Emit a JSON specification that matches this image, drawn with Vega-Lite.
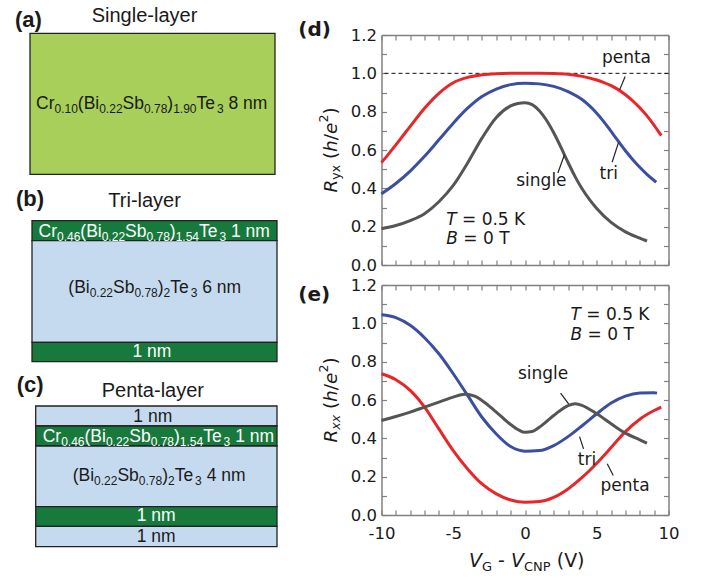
{
  "$schema": "https://vega.github.io/schema/vega-lite/v6.json",
  "background": "white",
  "padding": 0,
  "bounds": "flush",
  "spacing": 101.5,
  "resolve": {"scale": {"color": "independent", "fill": "independent"}},
  "config": {
    "view": {"stroke": null, "fill": "white"},
    "axis": {"grid": false, "tickSize": -5, "tickColor": "#808080", "tickWidth": 1.2, "domainColor": "#808080", "domainWidth": 1.5, "labelFont": "DejaVu Sans", "labelFontSize": 16.5, "labelColor": "#1a1a1a", "labelOverlap": false, "labelFlush": false, "labelBound": false, "labelPadding": 10}
  },
  "datasets": {
    "schem": [
      {"panel": "a", "material": "CBST-8nm", "x0": 30, "x1": 275, "y0": 33.3, "y1": 174.3},
      {"panel": "b", "material": "CBST-1nm", "x0": 32, "x1": 277, "y0": 220.7, "y1": 240.7},
      {"panel": "b", "material": "BST", "x0": 32, "x1": 277, "y0": 240.7, "y1": 342.3},
      {"panel": "b", "material": "CBST-1nm", "x0": 32, "x1": 277, "y0": 342.3, "y1": 361.7},
      {"panel": "c", "material": "BST", "x0": 35.7, "x1": 277, "y0": 406, "y1": 426},
      {"panel": "c", "material": "CBST-1nm", "x0": 35.7, "x1": 277, "y0": 426, "y1": 446},
      {"panel": "c", "material": "BST", "x0": 35.7, "x1": 277, "y0": 446, "y1": 506.7},
      {"panel": "c", "material": "CBST-1nm", "x0": 35.7, "x1": 277, "y0": 506.7, "y1": 526.3},
      {"panel": "c", "material": "BST", "x0": 35.7, "x1": 277, "y0": 526.3, "y1": 546.7}
    ],
    "stext": [
      {"text": "(a)", "x": 15, "y": 26.7, "role": "panel", "tone": "dark"},
      {"text": "Single-layer", "x": 91.7, "y": 22, "role": "title", "tone": "dark"},
      {"text": "(b)", "x": 16, "y": 206, "role": "panel", "tone": "dark"},
      {"text": "Tri-layer", "x": 108.3, "y": 207.3, "role": "title", "tone": "dark"},
      {"text": "(c)", "x": 16.7, "y": 391.7, "role": "panel", "tone": "dark"},
      {"text": "Penta-layer", "x": 101.7, "y": 396.7, "role": "title", "tone": "dark"},
      {"text": "Cr", "x": 36, "y": 109.3, "role": "main", "tone": "dark"},
      {"text": "0.10", "x": 54.46, "y": 109.3, "role": "sub", "tone": "dark"},
      {"text": "(Bi", "x": 77.81, "y": 109.3, "role": "main", "tone": "dark"},
      {"text": "0.22", "x": 99.2, "y": 109.3, "role": "sub", "tone": "dark"},
      {"text": "Sb", "x": 122.55, "y": 109.3, "role": "main", "tone": "dark"},
      {"text": "0.78", "x": 143.95, "y": 109.3, "role": "sub", "tone": "dark"},
      {"text": ")", "x": 167.3, "y": 109.3, "role": "main", "tone": "dark"},
      {"text": "1.90", "x": 173.13, "y": 109.3, "role": "sub", "tone": "dark"},
      {"text": "Te", "x": 196.48, "y": 109.3, "role": "main", "tone": "dark"},
      {"text": "3", "x": 216.9, "y": 109.3, "role": "sub", "tone": "dark"},
      {"text": "8 nm", "x": 228.44, "y": 109.3, "role": "main", "tone": "dark"},
      {"text": "Cr", "x": 38.5, "y": 236.7, "role": "main", "tone": "light"},
      {"text": "0.46", "x": 56.96, "y": 236.7, "role": "sub", "tone": "light"},
      {"text": "(Bi", "x": 80.31, "y": 236.7, "role": "main", "tone": "light"},
      {"text": "0.22", "x": 101.7, "y": 236.7, "role": "sub", "tone": "light"},
      {"text": "Sb", "x": 125.05, "y": 236.7, "role": "main", "tone": "light"},
      {"text": "0.78", "x": 146.45, "y": 236.7, "role": "sub", "tone": "light"},
      {"text": ")", "x": 169.8, "y": 236.7, "role": "main", "tone": "light"},
      {"text": "1.54", "x": 175.63, "y": 236.7, "role": "sub", "tone": "light"},
      {"text": "Te", "x": 198.98, "y": 236.7, "role": "main", "tone": "light"},
      {"text": "3", "x": 219.4, "y": 236.7, "role": "sub", "tone": "light"},
      {"text": "1 nm", "x": 230.94, "y": 236.7, "role": "main", "tone": "light"},
      {"text": "(Bi", "x": 68.3, "y": 293.3, "role": "main", "tone": "dark"},
      {"text": "0.22", "x": 89.69, "y": 293.3, "role": "sub", "tone": "dark"},
      {"text": "Sb", "x": 113.04, "y": 293.3, "role": "main", "tone": "dark"},
      {"text": "0.78", "x": 134.44, "y": 293.3, "role": "sub", "tone": "dark"},
      {"text": ")", "x": 157.79, "y": 293.3, "role": "main", "tone": "dark"},
      {"text": "2", "x": 163.62, "y": 293.3, "role": "sub", "tone": "dark"},
      {"text": "Te", "x": 170.29, "y": 293.3, "role": "main", "tone": "dark"},
      {"text": "3", "x": 190.71, "y": 293.3, "role": "sub", "tone": "dark"},
      {"text": "6 nm", "x": 202.25, "y": 293.3, "role": "main", "tone": "dark"},
      {"text": "1 nm", "x": 132.5, "y": 356.7, "role": "main", "tone": "light"},
      {"text": "1 nm", "x": 133.3, "y": 421.7, "role": "main", "tone": "dark"},
      {"text": "Cr", "x": 42.7, "y": 441.7, "role": "main", "tone": "light"},
      {"text": "0.46", "x": 61.16, "y": 441.7, "role": "sub", "tone": "light"},
      {"text": "(Bi", "x": 84.51, "y": 441.7, "role": "main", "tone": "light"},
      {"text": "0.22", "x": 105.9, "y": 441.7, "role": "sub", "tone": "light"},
      {"text": "Sb", "x": 129.25, "y": 441.7, "role": "main", "tone": "light"},
      {"text": "0.78", "x": 150.65, "y": 441.7, "role": "sub", "tone": "light"},
      {"text": ")", "x": 174.0, "y": 441.7, "role": "main", "tone": "light"},
      {"text": "1.54", "x": 179.83, "y": 441.7, "role": "sub", "tone": "light"},
      {"text": "Te", "x": 203.18, "y": 441.7, "role": "main", "tone": "light"},
      {"text": "3", "x": 223.6, "y": 441.7, "role": "sub", "tone": "light"},
      {"text": "1 nm", "x": 235.14, "y": 441.7, "role": "main", "tone": "light"},
      {"text": "(Bi", "x": 72.7, "y": 481, "role": "main", "tone": "dark"},
      {"text": "0.22", "x": 94.09, "y": 481, "role": "sub", "tone": "dark"},
      {"text": "Sb", "x": 117.44, "y": 481, "role": "main", "tone": "dark"},
      {"text": "0.78", "x": 138.84, "y": 481, "role": "sub", "tone": "dark"},
      {"text": ")", "x": 162.19, "y": 481, "role": "main", "tone": "dark"},
      {"text": "2", "x": 168.02, "y": 481, "role": "sub", "tone": "dark"},
      {"text": "Te", "x": 174.69, "y": 481, "role": "main", "tone": "dark"},
      {"text": "3", "x": 195.11, "y": 481, "role": "sub", "tone": "dark"},
      {"text": "4 nm", "x": 206.65, "y": 481, "role": "main", "tone": "dark"},
      {"text": "1 nm", "x": 136.7, "y": 520.7, "role": "main", "tone": "light"},
      {"text": "1 nm", "x": 136.7, "y": 541.7, "role": "main", "tone": "dark"}
    ],
    "curves": [
      {"p": "d", "s": "penta", "v": -10, "R": 0.535}, {"p": "d", "s": "penta", "v": -9.5, "R": 0.58}, {"p": "d", "s": "penta", "v": -9, "R": 0.627}, {"p": "d", "s": "penta", "v": -8, "R": 0.723}, {"p": "d", "s": "penta", "v": -7, "R": 0.818}, {"p": "d", "s": "penta", "v": -6, "R": 0.896}, {"p": "d", "s": "penta", "v": -5, "R": 0.951}, {"p": "d", "s": "penta", "v": -4, "R": 0.979}, {"p": "d", "s": "penta", "v": -3, "R": 0.992}, {"p": "d", "s": "penta", "v": -2, "R": 0.998}, {"p": "d", "s": "penta", "v": -1, "R": 1.0}, {"p": "d", "s": "penta", "v": 0, "R": 1.0}, {"p": "d", "s": "penta", "v": 1, "R": 1.0}, {"p": "d", "s": "penta", "v": 2, "R": 0.999}, {"p": "d", "s": "penta", "v": 3, "R": 0.995}, {"p": "d", "s": "penta", "v": 4, "R": 0.984}, {"p": "d", "s": "penta", "v": 5, "R": 0.965}, {"p": "d", "s": "penta", "v": 5.5, "R": 0.952}, {"p": "d", "s": "penta", "v": 6, "R": 0.936}, {"p": "d", "s": "penta", "v": 6.5, "R": 0.915}, {"p": "d", "s": "penta", "v": 7, "R": 0.888}, {"p": "d", "s": "penta", "v": 7.5, "R": 0.857}, {"p": "d", "s": "penta", "v": 8, "R": 0.82}, {"p": "d", "s": "penta", "v": 8.5, "R": 0.778}, {"p": "d", "s": "penta", "v": 9, "R": 0.729}, {"p": "d", "s": "penta", "v": 9.5, "R": 0.675},
      {"p": "d", "s": "tri", "v": -10, "R": 0.371}, {"p": "d", "s": "tri", "v": -9, "R": 0.425}, {"p": "d", "s": "tri", "v": -8, "R": 0.49}, {"p": "d", "s": "tri", "v": -7, "R": 0.567}, {"p": "d", "s": "tri", "v": -6, "R": 0.653}, {"p": "d", "s": "tri", "v": -5, "R": 0.74}, {"p": "d", "s": "tri", "v": -4, "R": 0.818}, {"p": "d", "s": "tri", "v": -3, "R": 0.879}, {"p": "d", "s": "tri", "v": -2, "R": 0.918}, {"p": "d", "s": "tri", "v": -1, "R": 0.941}, {"p": "d", "s": "tri", "v": 0, "R": 0.948}, {"p": "d", "s": "tri", "v": 1, "R": 0.945}, {"p": "d", "s": "tri", "v": 2, "R": 0.932}, {"p": "d", "s": "tri", "v": 3, "R": 0.905}, {"p": "d", "s": "tri", "v": 4, "R": 0.862}, {"p": "d", "s": "tri", "v": 4.5, "R": 0.83}, {"p": "d", "s": "tri", "v": 5, "R": 0.792}, {"p": "d", "s": "tri", "v": 5.5, "R": 0.747}, {"p": "d", "s": "tri", "v": 6, "R": 0.697}, {"p": "d", "s": "tri", "v": 6.5, "R": 0.646}, {"p": "d", "s": "tri", "v": 7, "R": 0.596}, {"p": "d", "s": "tri", "v": 7.5, "R": 0.551}, {"p": "d", "s": "tri", "v": 8, "R": 0.51}, {"p": "d", "s": "tri", "v": 8.5, "R": 0.473}, {"p": "d", "s": "tri", "v": 9, "R": 0.441}, {"p": "d", "s": "tri", "v": 9.15, "R": 0.432},
      {"p": "d", "s": "single", "v": -10, "R": 0.189}, {"p": "d", "s": "single", "v": -9, "R": 0.206}, {"p": "d", "s": "single", "v": -8, "R": 0.232}, {"p": "d", "s": "single", "v": -7, "R": 0.268}, {"p": "d", "s": "single", "v": -6, "R": 0.33}, {"p": "d", "s": "single", "v": -5, "R": 0.415}, {"p": "d", "s": "single", "v": -4, "R": 0.532}, {"p": "d", "s": "single", "v": -3, "R": 0.662}, {"p": "d", "s": "single", "v": -2, "R": 0.77}, {"p": "d", "s": "single", "v": -1, "R": 0.83}, {"p": "d", "s": "single", "v": -0.5, "R": 0.843}, {"p": "d", "s": "single", "v": 0, "R": 0.847}, {"p": "d", "s": "single", "v": 0.5, "R": 0.837}, {"p": "d", "s": "single", "v": 1, "R": 0.805}, {"p": "d", "s": "single", "v": 1.5, "R": 0.755}, {"p": "d", "s": "single", "v": 2, "R": 0.69}, {"p": "d", "s": "single", "v": 2.5, "R": 0.615}, {"p": "d", "s": "single", "v": 3, "R": 0.535}, {"p": "d", "s": "single", "v": 3.5, "R": 0.46}, {"p": "d", "s": "single", "v": 4, "R": 0.395}, {"p": "d", "s": "single", "v": 4.5, "R": 0.341}, {"p": "d", "s": "single", "v": 5, "R": 0.295}, {"p": "d", "s": "single", "v": 6, "R": 0.222}, {"p": "d", "s": "single", "v": 7, "R": 0.173}, {"p": "d", "s": "single", "v": 8, "R": 0.14}, {"p": "d", "s": "single", "v": 8.5, "R": 0.125},
      {"p": "e", "s": "tri", "v": -10, "R": 1.045}, {"p": "e", "s": "tri", "v": -9, "R": 1.03}, {"p": "e", "s": "tri", "v": -8, "R": 0.99}, {"p": "e", "s": "tri", "v": -7, "R": 0.925}, {"p": "e", "s": "tri", "v": -6, "R": 0.841}, {"p": "e", "s": "tri", "v": -5, "R": 0.737}, {"p": "e", "s": "tri", "v": -4, "R": 0.624}, {"p": "e", "s": "tri", "v": -3, "R": 0.51}, {"p": "e", "s": "tri", "v": -2, "R": 0.423}, {"p": "e", "s": "tri", "v": -1, "R": 0.357}, {"p": "e", "s": "tri", "v": 0, "R": 0.333}, {"p": "e", "s": "tri", "v": 1, "R": 0.336}, {"p": "e", "s": "tri", "v": 2, "R": 0.362}, {"p": "e", "s": "tri", "v": 3, "R": 0.409}, {"p": "e", "s": "tri", "v": 4, "R": 0.467}, {"p": "e", "s": "tri", "v": 5, "R": 0.528}, {"p": "e", "s": "tri", "v": 6, "R": 0.584}, {"p": "e", "s": "tri", "v": 7, "R": 0.62}, {"p": "e", "s": "tri", "v": 8, "R": 0.636}, {"p": "e", "s": "tri", "v": 9, "R": 0.638}, {"p": "e", "s": "tri", "v": 9.2, "R": 0.636},
      {"p": "e", "s": "penta", "v": -10, "R": 0.737}, {"p": "e", "s": "penta", "v": -9, "R": 0.706}, {"p": "e", "s": "penta", "v": -8, "R": 0.65}, {"p": "e", "s": "penta", "v": -7, "R": 0.563}, {"p": "e", "s": "penta", "v": -6, "R": 0.449}, {"p": "e", "s": "penta", "v": -5, "R": 0.336}, {"p": "e", "s": "penta", "v": -4, "R": 0.24}, {"p": "e", "s": "penta", "v": -3, "R": 0.162}, {"p": "e", "s": "penta", "v": -2, "R": 0.11}, {"p": "e", "s": "penta", "v": -1, "R": 0.078}, {"p": "e", "s": "penta", "v": 0, "R": 0.066}, {"p": "e", "s": "penta", "v": 1, "R": 0.07}, {"p": "e", "s": "penta", "v": 2, "R": 0.092}, {"p": "e", "s": "penta", "v": 3, "R": 0.136}, {"p": "e", "s": "penta", "v": 4, "R": 0.197}, {"p": "e", "s": "penta", "v": 5, "R": 0.27}, {"p": "e", "s": "penta", "v": 6, "R": 0.352}, {"p": "e", "s": "penta", "v": 7, "R": 0.435}, {"p": "e", "s": "penta", "v": 8, "R": 0.5}, {"p": "e", "s": "penta", "v": 9, "R": 0.545}, {"p": "e", "s": "penta", "v": 9.5, "R": 0.563},
      {"p": "e", "s": "single", "v": -10, "R": 0.493}, {"p": "e", "s": "single", "v": -9, "R": 0.514}, {"p": "e", "s": "single", "v": -8, "R": 0.537}, {"p": "e", "s": "single", "v": -7, "R": 0.563}, {"p": "e", "s": "single", "v": -6, "R": 0.589}, {"p": "e", "s": "single", "v": -5, "R": 0.615}, {"p": "e", "s": "single", "v": -4.2, "R": 0.63}, {"p": "e", "s": "single", "v": -3.5, "R": 0.62}, {"p": "e", "s": "single", "v": -3, "R": 0.598}, {"p": "e", "s": "single", "v": -2, "R": 0.537}, {"p": "e", "s": "single", "v": -1, "R": 0.472}, {"p": "e", "s": "single", "v": 0, "R": 0.432}, {"p": "e", "s": "single", "v": 0.5, "R": 0.436}, {"p": "e", "s": "single", "v": 1, "R": 0.458}, {"p": "e", "s": "single", "v": 2, "R": 0.519}, {"p": "e", "s": "single", "v": 3, "R": 0.571}, {"p": "e", "s": "single", "v": 3.5, "R": 0.58}, {"p": "e", "s": "single", "v": 4, "R": 0.571}, {"p": "e", "s": "single", "v": 5, "R": 0.528}, {"p": "e", "s": "single", "v": 6, "R": 0.476}, {"p": "e", "s": "single", "v": 7, "R": 0.427}, {"p": "e", "s": "single", "v": 8, "R": 0.392}, {"p": "e", "s": "single", "v": 8.5, "R": 0.375}
    ],
    "leaders": [
      {"p": "d", "v1": 6.98, "R1": 0.983, "v2": 6.6, "R2": 0.915},
      {"p": "d", "v1": 6.07, "R1": 0.536, "v2": 6.52, "R2": 0.64},
      {"p": "d", "v1": 2.29, "R1": 0.48, "v2": 2.75, "R2": 0.575},
      {"p": "e", "v1": 2.48, "R1": 0.636, "v2": 3.04, "R2": 0.58},
      {"p": "e", "v1": 3.8, "R1": 0.409, "v2": 4.08, "R2": 0.345},
      {"p": "e", "v1": 5.73, "R1": 0.267, "v2": 6.15, "R2": 0.206}
    ],
    "ann": [
      {"p": "d", "st": "b", "text": "(d)", "v": -15.8, "R": 1.195},
      {"p": "d", "st": "n", "text": "penta", "v": 5.36, "R": 1.052},
      {"p": "d", "st": "n", "text": "tri", "v": 5.19, "R": 0.451},
      {"p": "d", "st": "n", "text": "single", "v": -0.61, "R": 0.411},
      {"p": "d", "st": "i", "text": "T", "v": -5.49, "R": 0.211},
      {"p": "d", "st": "n", "text": "= 0.5 K", "v": -4.39, "R": 0.211},
      {"p": "d", "st": "i", "text": "B", "v": -5.49, "R": 0.107},
      {"p": "d", "st": "n", "text": "= 0 T", "v": -4.3, "R": 0.107},
      {"p": "d", "st": "ti", "text": "R", "v": -13.12, "R": 0.378},
      {"p": "d", "st": "ts", "text": "yx", "v": -13.12, "R": 0.445},
      {"p": "d", "st": "tn", "text": "(", "v": -13.12, "R": 0.553},
      {"p": "d", "st": "ti", "text": "h", "v": -13.12, "R": 0.59},
      {"p": "d", "st": "tn", "text": "/", "v": -13.12, "R": 0.651},
      {"p": "d", "st": "ti", "text": "e", "v": -13.12, "R": 0.684},
      {"p": "d", "st": "tp", "text": "2", "v": -13.12, "R": 0.743},
      {"p": "d", "st": "tn", "text": ")", "v": -13.12, "R": 0.785},
      {"p": "e", "st": "b", "text": "(e)", "v": -15.8, "R": 1.117},
      {"p": "e", "st": "n", "text": "single", "v": -0.49, "R": 0.711},
      {"p": "e", "st": "n", "text": "tri", "v": 3.68, "R": 0.261},
      {"p": "e", "st": "n", "text": "penta", "v": 5.26, "R": 0.127},
      {"p": "e", "st": "i", "text": "T", "v": 3.17, "R": 1.019},
      {"p": "e", "st": "n", "text": "= 0.5 K", "v": 4.27, "R": 1.019},
      {"p": "e", "st": "i", "text": "B", "v": 3.17, "R": 0.915},
      {"p": "e", "st": "n", "text": "= 0 T", "v": 4.36, "R": 0.915},
      {"p": "e", "st": "ti", "text": "R", "v": -13.12, "R": 0.378},
      {"p": "e", "st": "ts", "text": "xx", "v": -13.12, "R": 0.445},
      {"p": "e", "st": "tn", "text": "(", "v": -13.12, "R": 0.553},
      {"p": "e", "st": "ti", "text": "h", "v": -13.12, "R": 0.59},
      {"p": "e", "st": "tn", "text": "/", "v": -13.12, "R": 0.651},
      {"p": "e", "st": "ti", "text": "e", "v": -13.12, "R": 0.684},
      {"p": "e", "st": "tp", "text": "2", "v": -13.12, "R": 0.743},
      {"p": "e", "st": "tn", "text": ")", "v": -13.12, "R": 0.785},
      {"p": "e", "st": "xi", "text": "V", "v": -3.902, "R": -0.273},
      {"p": "e", "st": "xs", "text": "G", "v": -2.996, "R": -0.273},
      {"p": "e", "st": "xn", "text": "-", "v": -1.873, "R": -0.273},
      {"p": "e", "st": "xi", "text": "V", "v": -0.974, "R": -0.273},
      {"p": "e", "st": "xs", "text": "CNP", "v": -0.068, "R": -0.273},
      {"p": "e", "st": "xn", "text": "(V)", "v": 2.21, "R": -0.273}
    ]
  },
  "hconcat": [
    {
      "width": 280,
      "height": 579,
      "layer": [
        {
          "data": {"name": "schem"},
          "mark": {"type": "rect", "stroke": "#222222", "strokeWidth": 1.3},
          "encoding": {
            "x": {"field": "x0", "type": "quantitative", "scale": {"domain": [0, 280], "nice": false, "zero": false}, "axis": null},
            "x2": {"field": "x1"},
            "y": {"field": "y0", "type": "quantitative", "scale": {"domain": [0, 579], "nice": false, "zero": false, "reverse": true}, "axis": null},
            "y2": {"field": "y1"},
            "fill": {"field": "material", "type": "nominal", "scale": {"domain": ["CBST-8nm", "CBST-1nm", "BST"], "range": ["#a7cf59", "#177a3c", "#c6daef"]}, "legend": null}
          }
        },
        {
          "data": {"name": "stext"},
          "transform": [{"filter": "datum.role == 'panel'"}],
          "mark": {"type": "text", "align": "left", "baseline": "alphabetic", "font": "Liberation Sans", "fontSize": 22, "fontWeight": "bold"},
          "encoding": {
            "x": {"field": "x", "type": "quantitative", "scale": {"domain": [0, 280], "nice": false, "zero": false}, "axis": null},
            "y": {"field": "y", "type": "quantitative", "scale": {"domain": [0, 579], "nice": false, "zero": false, "reverse": true}, "axis": null},
            "text": {"field": "text"},
            "color": {"field": "tone", "type": "nominal", "scale": {"domain": ["dark", "light"], "range": ["#1a1a1a", "#ffffff"]}, "legend": null}
          }
        },
        {
          "data": {"name": "stext"},
          "transform": [{"filter": "datum.role == 'title'"}],
          "mark": {"type": "text", "align": "left", "baseline": "alphabetic", "font": "Liberation Sans", "fontSize": 20},
          "encoding": {
            "x": {"field": "x", "type": "quantitative", "scale": {"domain": [0, 280], "nice": false, "zero": false}, "axis": null},
            "y": {"field": "y", "type": "quantitative", "scale": {"domain": [0, 579], "nice": false, "zero": false, "reverse": true}, "axis": null},
            "text": {"field": "text"},
            "color": {"field": "tone", "type": "nominal", "scale": {"domain": ["dark", "light"], "range": ["#1a1a1a", "#ffffff"]}, "legend": null}
          }
        },
        {
          "data": {"name": "stext"},
          "transform": [{"filter": "datum.role == 'main'"}],
          "mark": {"type": "text", "align": "left", "baseline": "alphabetic", "font": "Liberation Sans", "fontSize": 17.5},
          "encoding": {
            "x": {"field": "x", "type": "quantitative", "scale": {"domain": [0, 280], "nice": false, "zero": false}, "axis": null},
            "y": {"field": "y", "type": "quantitative", "scale": {"domain": [0, 579], "nice": false, "zero": false, "reverse": true}, "axis": null},
            "text": {"field": "text"},
            "color": {"field": "tone", "type": "nominal", "scale": {"domain": ["dark", "light"], "range": ["#1a1a1a", "#ffffff"]}, "legend": null}
          }
        },
        {
          "data": {"name": "stext"},
          "transform": [{"filter": "datum.role == 'sub'"}],
          "mark": {"type": "text", "align": "left", "baseline": "alphabetic", "font": "Liberation Sans", "fontSize": 12, "dy": 4},
          "encoding": {
            "x": {"field": "x", "type": "quantitative", "scale": {"domain": [0, 280], "nice": false, "zero": false}, "axis": null},
            "y": {"field": "y", "type": "quantitative", "scale": {"domain": [0, 579], "nice": false, "zero": false, "reverse": true}, "axis": null},
            "text": {"field": "text"},
            "color": {"field": "tone", "type": "nominal", "scale": {"domain": ["dark", "light"], "range": ["#1a1a1a", "#ffffff"]}, "legend": null}
          }
        }
      ]
    },
    {
      "bounds": "flush",
      "spacing": 20,
      "vconcat": [
        {
          "width": 287,
          "height": 15,
          "data": {"values": [{"k": 1}]},
          "mark": {"type": "point", "opacity": 0},
          "encoding": {}
        },
        {
          "width": 287,
          "height": 230,
          "resolve": {"axis": {"x": "independent", "y": "independent"}},
          "layer": [
            {
              "data": {"values": [{"R": 1}]},
              "mark": {"type": "rule", "strokeDash": [4, 3], "color": "#111111", "strokeWidth": 1},
              "encoding": {"y": {"field": "R", "type": "quantitative", "scale": {"domain": [0, 1.2], "nice": false, "zero": false}, "axis": null}}
            },
            {
              "data": {"name": "curves"},
              "transform": [{"filter": "datum.p == 'd'"}],
              "mark": {"type": "line", "strokeWidth": 3, "interpolate": "monotone"},
              "encoding": {
                "x": {"field": "v", "type": "quantitative", "scale": {"domain": [-10, 10], "nice": false, "zero": false}, "axis": {"orient": "bottom", "values": [-10, -9, -8, -7, -6, -5, -4, -3, -2, -1, 0, 1, 2, 3, 4, 5, 6, 7, 8, 9, 10], "labels": false, "title": null}},
                "y": {"field": "R", "type": "quantitative", "scale": {"domain": [0, 1.2], "nice": false, "zero": false}, "axis": {"orient": "left", "values": [0, 0.1, 0.2, 0.3, 0.4, 0.5, 0.6, 0.7, 0.8, 0.9, 1.0, 1.1, 1.2], "title": null, "labelExpr": "round(datum.value * 10) % 2 == 0 ? format(datum.value, '.1f') : ''"}},
                "color": {"field": "s", "type": "nominal", "scale": {"domain": ["single", "tri", "penta"], "range": ["#555555", "#3b4fa1", "#e8262a"]}, "legend": null}
              }
            },
            {
              "data": {"name": "leaders"},
              "transform": [{"filter": "datum.p == 'd'"}],
              "mark": {"type": "rule", "color": "#222222", "strokeWidth": 1.2},
              "encoding": {
                "x": {"field": "v1", "type": "quantitative", "scale": {"domain": [-10, 10], "nice": false, "zero": false}, "axis": {"orient": "top", "values": [-10, -9, -8, -7, -6, -5, -4, -3, -2, -1, 0, 1, 2, 3, 4, 5, 6, 7, 8, 9, 10], "labels": false, "title": null}},
                "x2": {"field": "v2"},
                "y": {"field": "R1", "type": "quantitative", "scale": {"domain": [0, 1.2], "nice": false, "zero": false}, "axis": {"orient": "right", "values": [0, 0.1, 0.2, 0.3, 0.4, 0.5, 0.6, 0.7, 0.8, 0.9, 1.0, 1.1, 1.2], "labels": false, "title": null}},
                "y2": {"field": "R2"}
              }
            },
            {
              "data": {"name": "ann"},
              "transform": [{"filter": "datum.p == 'd' && datum.st == 'n'"}],
              "mark": {"type": "text", "align": "left", "baseline": "alphabetic", "font": "DejaVu Sans", "fontSize": 17, "color": "#1a1a1a"},
              "encoding": {
                "x": {"field": "v", "type": "quantitative", "scale": {"domain": [-10, 10], "nice": false, "zero": false}, "axis": null},
                "y": {"field": "R", "type": "quantitative", "scale": {"domain": [0, 1.2], "nice": false, "zero": false}, "axis": null},
                "text": {"field": "text"}
              }
            },
            {
              "data": {"name": "ann"},
              "transform": [{"filter": "datum.p == 'd' && datum.st == 'i'"}],
              "mark": {"type": "text", "align": "left", "baseline": "alphabetic", "font": "DejaVu Sans", "fontSize": 17, "fontStyle": "italic", "color": "#1a1a1a"},
              "encoding": {
                "x": {"field": "v", "type": "quantitative", "scale": {"domain": [-10, 10], "nice": false, "zero": false}, "axis": null},
                "y": {"field": "R", "type": "quantitative", "scale": {"domain": [0, 1.2], "nice": false, "zero": false}, "axis": null},
                "text": {"field": "text"}
              }
            },
            {
              "data": {"name": "ann"},
              "transform": [{"filter": "datum.p == 'd' && datum.st == 'b'"}],
              "mark": {"type": "text", "align": "left", "baseline": "alphabetic", "font": "DejaVu Sans", "fontSize": 20, "fontWeight": "bold", "color": "#1a1a1a"},
              "encoding": {
                "x": {"field": "v", "type": "quantitative", "scale": {"domain": [-10, 10], "nice": false, "zero": false}, "axis": null},
                "y": {"field": "R", "type": "quantitative", "scale": {"domain": [0, 1.2], "nice": false, "zero": false}, "axis": null},
                "text": {"field": "text"}
              }
            },
            {
              "data": {"name": "ann"},
              "transform": [{"filter": "datum.p == 'd' && datum.st == 'tn'"}],
              "mark": {"type": "text", "align": "left", "baseline": "alphabetic", "angle": 270, "font": "DejaVu Sans", "fontSize": 18.5, "color": "#1a1a1a"},
              "encoding": {
                "x": {"field": "v", "type": "quantitative", "scale": {"domain": [-10, 10], "nice": false, "zero": false}, "axis": null},
                "y": {"field": "R", "type": "quantitative", "scale": {"domain": [0, 1.2], "nice": false, "zero": false}, "axis": null},
                "text": {"field": "text"}
              }
            },
            {
              "data": {"name": "ann"},
              "transform": [{"filter": "datum.p == 'd' && datum.st == 'ti'"}],
              "mark": {"type": "text", "align": "left", "baseline": "alphabetic", "angle": 270, "font": "DejaVu Sans", "fontSize": 18.5, "fontStyle": "italic", "color": "#1a1a1a"},
              "encoding": {
                "x": {"field": "v", "type": "quantitative", "scale": {"domain": [-10, 10], "nice": false, "zero": false}, "axis": null},
                "y": {"field": "R", "type": "quantitative", "scale": {"domain": [0, 1.2], "nice": false, "zero": false}, "axis": null},
                "text": {"field": "text"}
              }
            },
            {
              "data": {"name": "ann"},
              "transform": [{"filter": "datum.p == 'd' && datum.st == 'ts'"}],
              "mark": {"type": "text", "align": "left", "baseline": "alphabetic", "angle": 270, "font": "DejaVu Sans", "fontSize": 12.5, "dy": 3.5, "color": "#1a1a1a"},
              "encoding": {
                "x": {"field": "v", "type": "quantitative", "scale": {"domain": [-10, 10], "nice": false, "zero": false}, "axis": null},
                "y": {"field": "R", "type": "quantitative", "scale": {"domain": [0, 1.2], "nice": false, "zero": false}, "axis": null},
                "text": {"field": "text"}
              }
            },
            {
              "data": {"name": "ann"},
              "transform": [{"filter": "datum.p == 'd' && datum.st == 'tp'"}],
              "mark": {"type": "text", "align": "left", "baseline": "alphabetic", "angle": 270, "font": "DejaVu Sans", "fontSize": 12.5, "dy": -9, "color": "#1a1a1a"},
              "encoding": {
                "x": {"field": "v", "type": "quantitative", "scale": {"domain": [-10, 10], "nice": false, "zero": false}, "axis": null},
                "y": {"field": "R", "type": "quantitative", "scale": {"domain": [0, 1.2], "nice": false, "zero": false}, "axis": null},
                "text": {"field": "text"}
              }
            }
          ]
        },
        {
          "width": 287,
          "height": 230,
          "resolve": {"axis": {"x": "independent", "y": "independent"}},
          "layer": [
            {
              "data": {"name": "curves"},
              "transform": [{"filter": "datum.p == 'e'"}],
              "mark": {"type": "line", "strokeWidth": 3, "interpolate": "monotone"},
              "encoding": {
                "x": {"field": "v", "type": "quantitative", "scale": {"domain": [-10, 10], "nice": false, "zero": false}, "axis": {"orient": "bottom", "values": [-10, -9, -8, -7, -6, -5, -4, -3, -2, -1, 0, 1, 2, 3, 4, 5, 6, 7, 8, 9, 10], "title": null, "labelPadding": 15.7, "labelExpr": "datum.value % 5 == 0 ? '' + datum.value : ''"}},
                "y": {"field": "R", "type": "quantitative", "scale": {"domain": [0, 1.2], "nice": false, "zero": false}, "axis": {"orient": "left", "values": [0, 0.1, 0.2, 0.3, 0.4, 0.5, 0.6, 0.7, 0.8, 0.9, 1.0, 1.1, 1.2], "title": null, "labelExpr": "round(datum.value * 10) % 2 == 0 ? format(datum.value, '.1f') : ''"}},
                "color": {"field": "s", "type": "nominal", "scale": {"domain": ["single", "tri", "penta"], "range": ["#555555", "#3b4fa1", "#e8262a"]}, "legend": null}
              }
            },
            {
              "data": {"name": "leaders"},
              "transform": [{"filter": "datum.p == 'e'"}],
              "mark": {"type": "rule", "color": "#222222", "strokeWidth": 1.2},
              "encoding": {
                "x": {"field": "v1", "type": "quantitative", "scale": {"domain": [-10, 10], "nice": false, "zero": false}, "axis": {"orient": "top", "values": [-10, -9, -8, -7, -6, -5, -4, -3, -2, -1, 0, 1, 2, 3, 4, 5, 6, 7, 8, 9, 10], "labels": false, "title": null}},
                "x2": {"field": "v2"},
                "y": {"field": "R1", "type": "quantitative", "scale": {"domain": [0, 1.2], "nice": false, "zero": false}, "axis": {"orient": "right", "values": [0, 0.1, 0.2, 0.3, 0.4, 0.5, 0.6, 0.7, 0.8, 0.9, 1.0, 1.1, 1.2], "labels": false, "title": null}},
                "y2": {"field": "R2"}
              }
            },
            {
              "data": {"name": "ann"},
              "transform": [{"filter": "datum.p == 'e' && datum.st == 'n'"}],
              "mark": {"type": "text", "align": "left", "baseline": "alphabetic", "font": "DejaVu Sans", "fontSize": 17, "color": "#1a1a1a"},
              "encoding": {
                "x": {"field": "v", "type": "quantitative", "scale": {"domain": [-10, 10], "nice": false, "zero": false}, "axis": null},
                "y": {"field": "R", "type": "quantitative", "scale": {"domain": [0, 1.2], "nice": false, "zero": false}, "axis": null},
                "text": {"field": "text"}
              }
            },
            {
              "data": {"name": "ann"},
              "transform": [{"filter": "datum.p == 'e' && datum.st == 'i'"}],
              "mark": {"type": "text", "align": "left", "baseline": "alphabetic", "font": "DejaVu Sans", "fontSize": 17, "fontStyle": "italic", "color": "#1a1a1a"},
              "encoding": {
                "x": {"field": "v", "type": "quantitative", "scale": {"domain": [-10, 10], "nice": false, "zero": false}, "axis": null},
                "y": {"field": "R", "type": "quantitative", "scale": {"domain": [0, 1.2], "nice": false, "zero": false}, "axis": null},
                "text": {"field": "text"}
              }
            },
            {
              "data": {"name": "ann"},
              "transform": [{"filter": "datum.p == 'e' && datum.st == 'b'"}],
              "mark": {"type": "text", "align": "left", "baseline": "alphabetic", "font": "DejaVu Sans", "fontSize": 20, "fontWeight": "bold", "color": "#1a1a1a"},
              "encoding": {
                "x": {"field": "v", "type": "quantitative", "scale": {"domain": [-10, 10], "nice": false, "zero": false}, "axis": null},
                "y": {"field": "R", "type": "quantitative", "scale": {"domain": [0, 1.2], "nice": false, "zero": false}, "axis": null},
                "text": {"field": "text"}
              }
            },
            {
              "data": {"name": "ann"},
              "transform": [{"filter": "datum.p == 'e' && datum.st == 'tn'"}],
              "mark": {"type": "text", "align": "left", "baseline": "alphabetic", "angle": 270, "font": "DejaVu Sans", "fontSize": 18.5, "color": "#1a1a1a"},
              "encoding": {
                "x": {"field": "v", "type": "quantitative", "scale": {"domain": [-10, 10], "nice": false, "zero": false}, "axis": null},
                "y": {"field": "R", "type": "quantitative", "scale": {"domain": [0, 1.2], "nice": false, "zero": false}, "axis": null},
                "text": {"field": "text"}
              }
            },
            {
              "data": {"name": "ann"},
              "transform": [{"filter": "datum.p == 'e' && datum.st == 'ti'"}],
              "mark": {"type": "text", "align": "left", "baseline": "alphabetic", "angle": 270, "font": "DejaVu Sans", "fontSize": 18.5, "fontStyle": "italic", "color": "#1a1a1a"},
              "encoding": {
                "x": {"field": "v", "type": "quantitative", "scale": {"domain": [-10, 10], "nice": false, "zero": false}, "axis": null},
                "y": {"field": "R", "type": "quantitative", "scale": {"domain": [0, 1.2], "nice": false, "zero": false}, "axis": null},
                "text": {"field": "text"}
              }
            },
            {
              "data": {"name": "ann"},
              "transform": [{"filter": "datum.p == 'e' && datum.st == 'ts'"}],
              "mark": {"type": "text", "align": "left", "baseline": "alphabetic", "angle": 270, "font": "DejaVu Sans", "fontSize": 12.5, "dy": 3.5, "fontStyle": "italic", "color": "#1a1a1a"},
              "encoding": {
                "x": {"field": "v", "type": "quantitative", "scale": {"domain": [-10, 10], "nice": false, "zero": false}, "axis": null},
                "y": {"field": "R", "type": "quantitative", "scale": {"domain": [0, 1.2], "nice": false, "zero": false}, "axis": null},
                "text": {"field": "text"}
              }
            },
            {
              "data": {"name": "ann"},
              "transform": [{"filter": "datum.p == 'e' && datum.st == 'tp'"}],
              "mark": {"type": "text", "align": "left", "baseline": "alphabetic", "angle": 270, "font": "DejaVu Sans", "fontSize": 12.5, "dy": -9, "color": "#1a1a1a"},
              "encoding": {
                "x": {"field": "v", "type": "quantitative", "scale": {"domain": [-10, 10], "nice": false, "zero": false}, "axis": null},
                "y": {"field": "R", "type": "quantitative", "scale": {"domain": [0, 1.2], "nice": false, "zero": false}, "axis": null},
                "text": {"field": "text"}
              }
            },
            {
              "data": {"name": "ann"},
              "transform": [{"filter": "datum.p == 'e' && datum.st == 'xn'"}],
              "mark": {"type": "text", "align": "left", "baseline": "alphabetic", "font": "DejaVu Sans", "fontSize": 19, "color": "#1a1a1a"},
              "encoding": {
                "x": {"field": "v", "type": "quantitative", "scale": {"domain": [-10, 10], "nice": false, "zero": false}, "axis": null},
                "y": {"field": "R", "type": "quantitative", "scale": {"domain": [0, 1.2], "nice": false, "zero": false}, "axis": null},
                "text": {"field": "text"}
              }
            },
            {
              "data": {"name": "ann"},
              "transform": [{"filter": "datum.p == 'e' && datum.st == 'xi'"}],
              "mark": {"type": "text", "align": "left", "baseline": "alphabetic", "font": "DejaVu Sans", "fontSize": 19, "fontStyle": "italic", "color": "#1a1a1a"},
              "encoding": {
                "x": {"field": "v", "type": "quantitative", "scale": {"domain": [-10, 10], "nice": false, "zero": false}, "axis": null},
                "y": {"field": "R", "type": "quantitative", "scale": {"domain": [0, 1.2], "nice": false, "zero": false}, "axis": null},
                "text": {"field": "text"}
              }
            },
            {
              "data": {"name": "ann"},
              "transform": [{"filter": "datum.p == 'e' && datum.st == 'xs'"}],
              "mark": {"type": "text", "align": "left", "baseline": "alphabetic", "font": "DejaVu Sans", "fontSize": 13, "dy": 4, "color": "#1a1a1a"},
              "encoding": {
                "x": {"field": "v", "type": "quantitative", "scale": {"domain": [-10, 10], "nice": false, "zero": false}, "axis": null},
                "y": {"field": "R", "type": "quantitative", "scale": {"domain": [0, 1.2], "nice": false, "zero": false}, "axis": null},
                "text": {"field": "text"}
              }
            }
          ]
        }
      ]
    }
  ]
}
